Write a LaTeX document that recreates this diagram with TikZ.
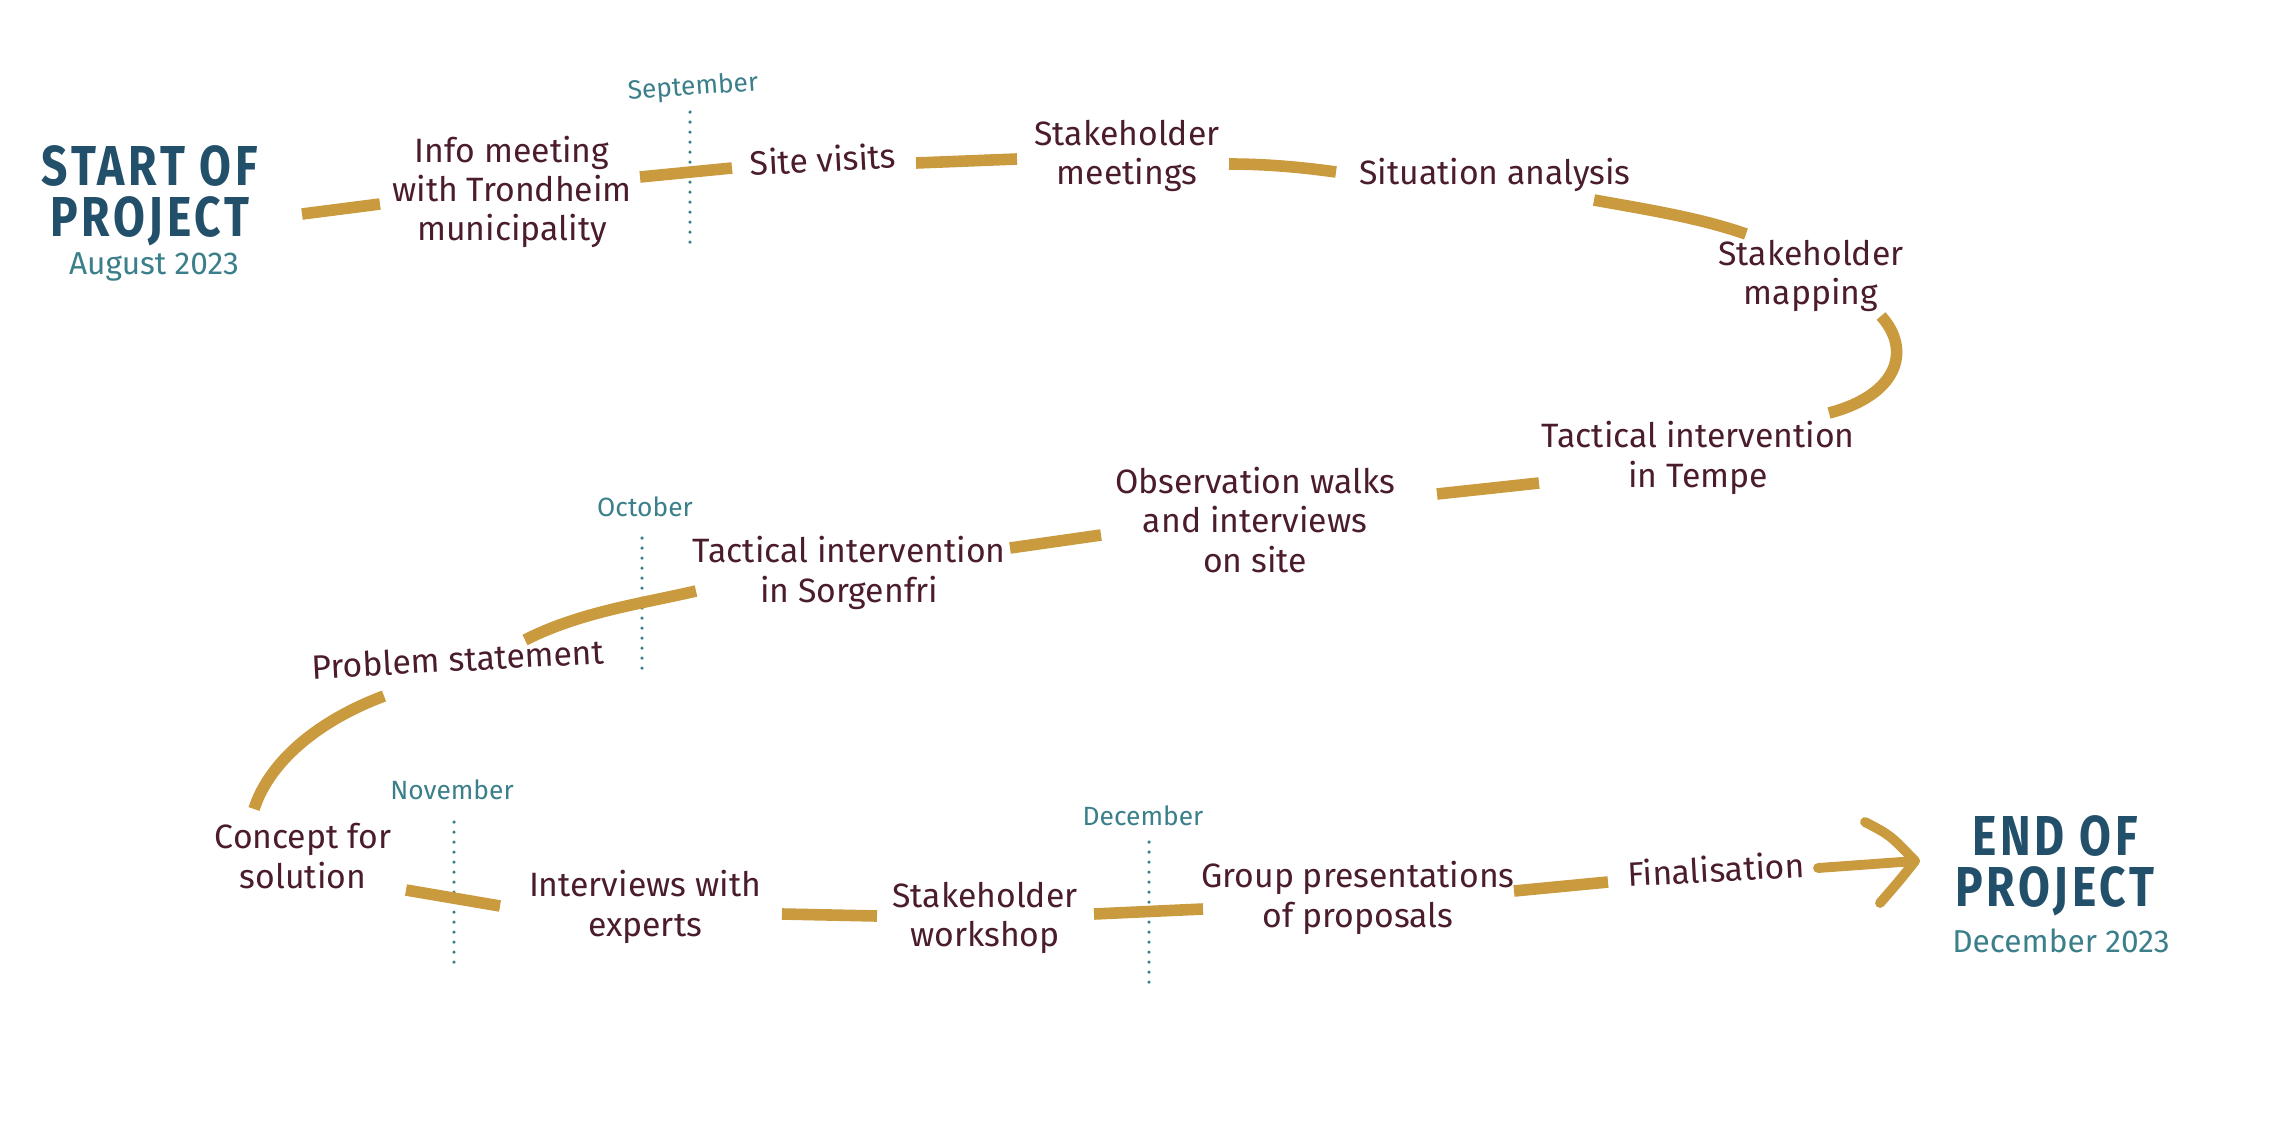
\documentclass[tikz,border=0pt]{standalone}
\usepackage{fontspec}
\setmainfont{Fira Sans}
\newfontfamily\titlefont[FakeStretch=0.82, LetterSpace=7]{Fira Sans}
\definecolor{gold}{HTML}{C99A3E}
\definecolor{plum}{HTML}{4A1C2C}
\definecolor{mteal}{HTML}{3B7F8A}
\definecolor{tnavy}{HTML}{22506A}
\begin{document}
\begin{tikzpicture}[x=0.01cm,y=-0.01cm,
  lbl/.style={text=plum, font=\fontsize{9.6}{11.2}\selectfont, align=center, inner sep=1pt},
  month/.style={text=mteal, font=\fontsize{7.5}{8}\selectfont, inner sep=0pt},
  ttl/.style={text=tnavy, font=\titlefont\bfseries\fontsize{16}{14.5}\selectfont, align=center, inner sep=0pt},
  sub/.style={text=mteal, font=\fontsize{9}{10}\selectfont, inner sep=0pt},
  seg/.style={draw=gold, line width=3.3pt, line cap=butt},
  mline/.style={draw=mteal, line width=1pt, line cap=round, dash pattern=on 0pt off 1mm},
  arr/.style={draw=gold, line width=2.8pt, line cap=round, line join=round}
]
\useasboundingbox (0,0) rectangle (2272,1136);

% titles
\node[ttl] (start) at (150,196) {START OF\\PROJECT};
\node[sub] (aug) at (154,267) {August 2023};
\node[ttl] (end) at (2055,866) {END OF\\PROJECT};
\node[sub] (decy) at (2061,941) {December 2023};

% steps
\node[lbl] (info) at (512,192) {Info meeting\\with Trondheim\\municipality};
\node[lbl, rotate=3] (site) at (823,159) {Site visits};
\node[lbl] (meet) at (1127,156) {Stakeholder\\meetings};
\node[lbl] (sit) at (1495,175) {Situation analysis};
\node[lbl] (map) at (1811,276) {Stakeholder\\mapping};
\node[lbl] (tempe) at (1698,458) {Tactical intervention\\in Tempe};
\node[lbl] (obs) at (1255,520) {Observation walks\\and interviews\\on site};
\node[lbl] (sorg) at (849,573) {Tactical intervention\\in Sorgenfri};
\node[lbl, rotate=3] (prob) at (458,659) {Problem statement};
\node[lbl] (conc) at (303,856) {Concept for\\solution};
\node[lbl] (int) at (645,907) {Interviews with\\experts};
\node[lbl] (work) at (985,918) {Stakeholder\\workshop};
\node[lbl] (grp) at (1358,898) {Group presentations\\of proposals};
\node[lbl, rotate=3] (fin) at (1716,869) {Finalisation};

% months
\node[month, rotate=4] (sep) at (693,88) {September};
\node[month] (oct) at (645,507) {October};
\node[month] (nov) at (452,790) {November};
\node[month] (decm) at (1143,816) {December};
\coordinate (sepA) at (690,112); \coordinate (sepB) at (690,251);
\coordinate (octA) at (642,538); \coordinate (octB) at (642,678);
\coordinate (novA) at (454,822); \coordinate (novB) at (454,964);
\coordinate (decA) at (1149,842); \coordinate (decB) at (1149,985);
\draw[mline] (sepA) -- (sepB);
\draw[mline] (octA) -- (octB);
\draw[mline] (novA) -- (novB);
\draw[mline] (decA) -- (decB);

% path segments
\coordinate (s1a) at (302,214); \coordinate (s1b) at (380,204);
\coordinate (s2a) at (640,177); \coordinate (s2b) at (732,168);
\coordinate (s3a) at (916,163); \coordinate (s3b) at (1017,159);
\coordinate (s4a) at (1229,164); \coordinate (s4b) at (1336,172);
\coordinate (s5a) at (1594,200); \coordinate (s5b) at (1746,234);
\coordinate (s6a) at (1881,316); \coordinate (s6b) at (1829,413);
\coordinate (s7a) at (1437,494); \coordinate (s7b) at (1539,483);
\coordinate (s8a) at (1010,548); \coordinate (s8b) at (1101,535);
\coordinate (s9a) at (525,640); \coordinate (s9b) at (696,591);
\coordinate (s10a) at (384,696); \coordinate (s10b) at (254,809);
\coordinate (s11a) at (406,890); \coordinate (s11b) at (500,906);
\coordinate (s12a) at (782,914); \coordinate (s12b) at (877,916);
\coordinate (s13a) at (1094,914); \coordinate (s13b) at (1203,909);
\coordinate (s14a) at (1514,891); \coordinate (s14b) at (1608,882);
\coordinate (s15a) at (1818,868); \coordinate (s15b) at (1915,861);
\coordinate (h1) at (1865,822); \coordinate (h2) at (1880,903);

\draw[seg] (s1a) -- (s1b);
\draw[seg] (s2a) -- (s2b);
\draw[seg] (s3a) -- (s3b);
\draw[seg] (s4a) .. controls (1265,164) and (1300,167) .. (s4b);
\draw[seg] (s5a) .. controls (1650,210) and (1700,218) .. (s5b);
\draw[seg] (s6a) .. controls (1912,350) and (1898,395) .. (s6b);
\draw[seg] (s7a) -- (s7b);
\draw[seg] (s8a) -- (s8b);
\draw[seg] (s9a) .. controls (580,612) and (640,604) .. (s9b);
\draw[seg] (s10a) .. controls (320,720) and (270,760) .. (s10b);
\draw[seg] (s11a) -- (s11b);
\draw[seg] (s12a) -- (s12b);
\draw[seg] (s13a) -- (s13b);
\draw[seg] (s14a) -- (s14b);
\draw[arr] (s15a) -- (s15b);
\draw[arr] (h1) .. controls (1890,835) .. (s15b) .. controls (1900,880) .. (h2);
\end{tikzpicture}
\end{document}
